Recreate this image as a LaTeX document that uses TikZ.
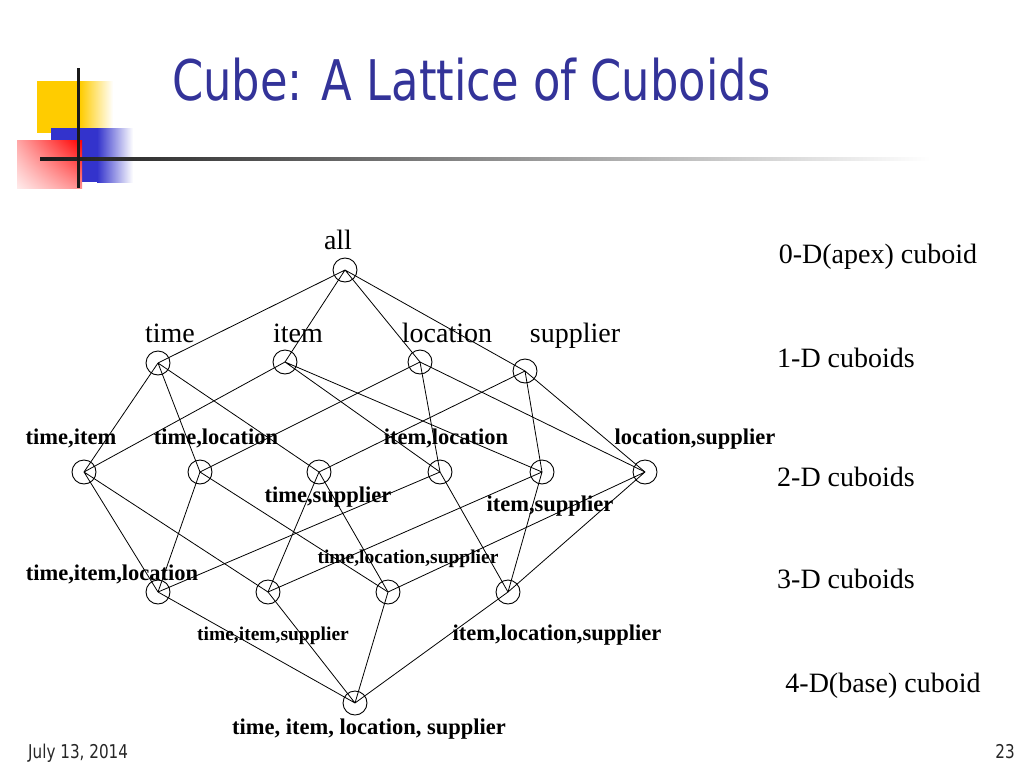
\documentclass[tikz,border=0pt]{standalone}
\usepackage{fontspec}
\setmainfont{Liberation Serif}
\newfontfamily\slidefont[FakeStretch=0.80]{DejaVu Sans}
\usepackage{tikz}
\usetikzlibrary{positioning,shadings}
\definecolor{titleblue}{RGB}{51,51,153}
\definecolor{logoyellow}{RGB}{255,204,0}
\definecolor{logoblue}{RGB}{51,51,204}
\newcommand{\dimfont}{\fontsize{28}{30}\selectfont}
\newcommand{\setfont}{\fontsize{22.5}{24}\selectfont\bfseries}
\newcommand{\smallsetfont}{\fontsize{19.5}{21}\selectfont\bfseries}

\begin{document}
\begin{tikzpicture}[
   x=1pt, y=-1pt,
   cuboid/.style={draw, circle, minimum size=24pt, inner sep=0pt,
      line width=0.9pt},
   dimlab/.style={font=\dimfont, inner sep=0pt, anchor=base},
   setlab/.style={font=\setfont, inner sep=0pt, anchor=base},
   smalllab/.style={font=\smallsetfont, inner sep=0pt, anchor=base},
   edge/.style={line width=0.8pt}
]
\useasboundingbox (0,0) rectangle (1024,768);

% slide decoration
\shade[left color=logoyellow, right color=white] (80,81) rectangle (113,133);
\fill[logoyellow] (37,81) rectangle (80.5,133);
\shade[left color=logoblue, right color=white] (97,128) rectangle (133,182);
\fill[logoblue] (51,128) rectangle (97.5,182);
\shade[upper right=red, upper left=red!35, lower right=red!45,
   lower left=red!8] (17,140) rectangle (82,188);
\shade[left color=black!90, middle color=black!45, right color=white]
   (40,157.5) rectangle (930,160.5);
\fill[black!90] (76.5,68) rectangle (79.5,188);

\node[anchor=base west, inner sep=0pt, text=titleblue,
   font=\slidefont\fontsize{56}{60}\selectfont] (title) at (172,100)
   {Cube: A Lattice of Cuboids};

% cuboids
\node[cuboid] (A) at (345,270) {};
\node[cuboid] (T) at (158,363) {};
\node[cuboid] (I) at (285,362) {};
\node[cuboid] (L) at (420,362) {};
\node[cuboid] (S) at (525,371) {};
\node[cuboid] (TI) at (84,472) {};
\node[cuboid] (TL) at (200,472) {};
\node[cuboid] (TS) at (319,472) {};
\node[cuboid] (IL) at (440,472) {};
\node[cuboid] (IS) at (542,472) {};
\node[cuboid] (LS) at (645,472) {};
\node[cuboid] (TIL) at (158,592) {};
\node[cuboid] (TIS) at (268,592) {};
\node[cuboid] (TLS) at (388,592) {};
\node[cuboid] (ILS) at (508,592) {};
\node[cuboid] (TILS) at (355,703) {};

% labels
\node[dimlab] (Alab) at (338,249.5) {all};
\node[dimlab] (Tlab) at (170,342.5) {time};
\node[dimlab] (Ilab) at (298,342.5) {item};
\node[dimlab] (Llab) at (447,342.5) {location};
\node[dimlab] (Slab) at (575,342.5) {supplier};
\node[setlab] (TIlab) at (71,444.5) {time,item};
\node[setlab] (TLlab) at (216,444.5) {time,location};
\node[setlab] (ILlab) at (446,444.5) {item,location};
\node[setlab] (LSlab) at (695,444.5) {location,supplier};
\node[setlab] (TSlab) at (328,502.5) {time,supplier};
\node[setlab] (ISlab) at (550,511.5) {item,supplier};
\node[smalllab] (TLSlab) at (408,563) {time,location,supplier};
\node[setlab] (TILlab) at (112,580) {time,item,location};
\node[smalllab] (TISlab) at (273,640) {time,item,supplier};
\node[setlab] (ILSlab) at (557,640) {item,location,supplier};
\node[setlab] (TILSlab) at (369,734) {time, item, location, supplier};

% levels
\node[dimlab] (D0) at (878,263) {0-D(apex) cuboid};
\node[dimlab] (D1) at (846,367) {1-D cuboids};
\node[dimlab] (D2) at (846,486) {2-D cuboids};
\node[dimlab] (D3) at (846,588) {3-D cuboids};
\node[dimlab] (D4) at (883,692) {4-D(base) cuboid};

% lattice edges
\draw[edge] (A.center) -- (T.center) (A.center) -- (I.center)
   (A.center) -- (L.center) (A.center) -- (S.center);
\draw[edge] (T.center) -- (TI.center) (T.center) -- (TL.center)
   (T.center) -- (TS.center);
\draw[edge] (I.center) -- (TI.center) (I.center) -- (IL.center)
   (I.center) -- (IS.center);
\draw[edge] (L.center) -- (TL.center) (L.center) -- (IL.center)
   (L.center) -- (LS.center);
\draw[edge] (S.center) -- (TS.center) (S.center) -- (IS.center)
   (S.center) -- (LS.center);
\draw[edge] (TI.center) -- (TIL.center) (TI.center) -- (TIS.center);
\draw[edge] (TL.center) -- (TIL.center) (TL.center) -- (TLS.center);
\draw[edge] (TS.center) -- (TIS.center) (TS.center) -- (TLS.center);
\draw[edge] (IL.center) -- (TIL.center) (IL.center) -- (ILS.center);
\draw[edge] (IS.center) -- (TIS.center) (IS.center) -- (ILS.center);
\draw[edge] (LS.center) -- (TLS.center) (LS.center) -- (ILS.center);
\draw[edge] (TIL.center) -- (TILS.center) (TIS.center) -- (TILS.center)
   (TLS.center) -- (TILS.center) (ILS.center) -- (TILS.center);

% footer
\node[anchor=base west, inner sep=0pt, text=black!85,
   font=\slidefont\fontsize{19}{21}\selectfont] (date) at (28,758)
   {July 13, 2014};
\node[anchor=base east, inner sep=0pt, text=black!85,
   font=\slidefont\fontsize{19}{21}\selectfont] (page) at (1015,758) {23};
\end{tikzpicture}
\end{document}
